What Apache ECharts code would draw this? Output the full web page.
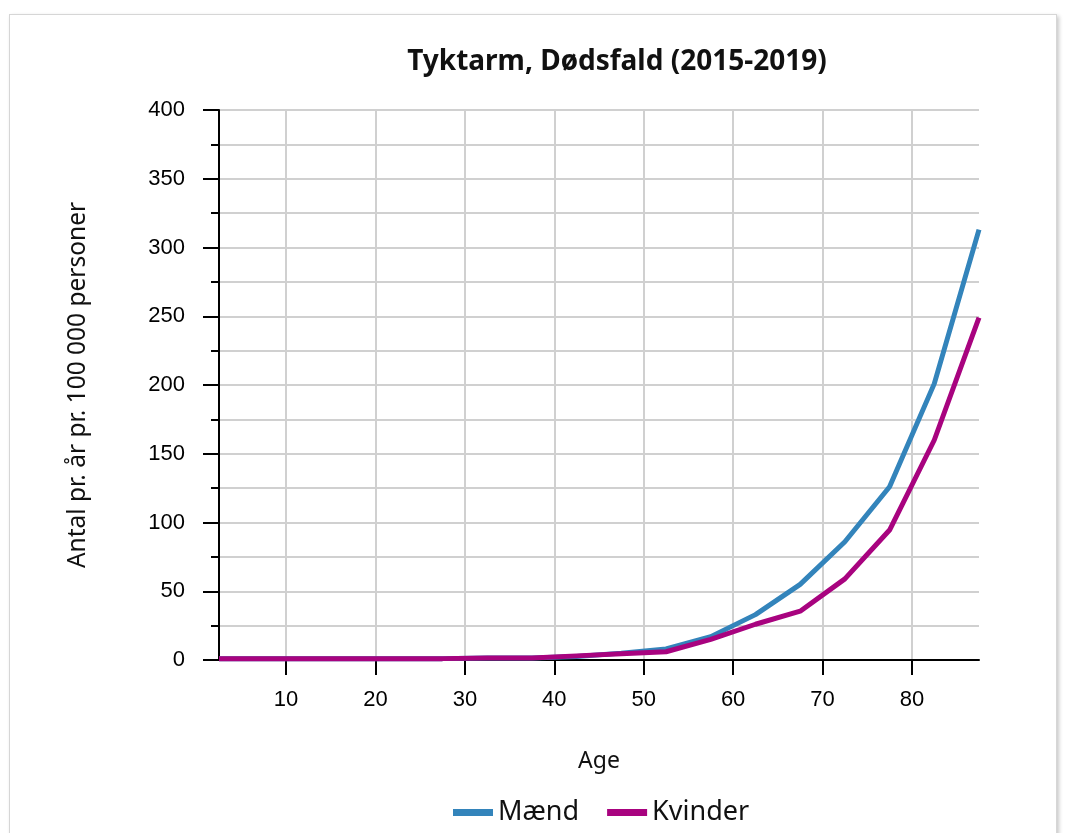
<!DOCTYPE html>
<html>
<head>
<meta charset="utf-8">
<script src="https://cdn.jsdelivr.net/npm/echarts@6/dist/echarts.min.js"></script>
<style>
  html, body { margin: 0; padding: 0; background: #fff; }
  #card { position: absolute; left: 9px; top: 14px; width: 1046px; height: 840px;
          border: 1px solid #d6d6d6; box-shadow: 2px 2px 4px #c8c8c8; background: #fff; }
  #main { position: absolute; left: 0; top: 0; width: 1074px; height: 833px; }
</style>
</head>
<body>
<div id="card"></div>
<div id="main"></div>
<script>
// age group midpoints
const ages = [2.5, 7.5, 12.5, 17.5, 22.5, 27.5, 32.5, 37.5, 42.5, 47.5, 52.5, 57.5, 62.5, 67.5, 72.5, 77.5, 82.5, 87.5]
const maend = [1, 1, 1, 1, 1, 1, 1.5, 1.5, 2.5, 5, 8, 17, 33, 55, 86, 126, 201, 313]
const kvinder = [1, 1, 1, 1, 1, 1, 1.5, 1.5, 3, 4.5, 6, 15, 26, 35.5, 59, 94.5, 160, 249]
const xTicks = [10, 20, 30, 40, 50, 60, 70, 80]

const toPairs = vals => ages.map((a, i) => [a, vals[i]])

let mychart = echarts.init(document.getElementById('main'))
const option = {
  animation: false,
  title: {
    text: 'Tyktarm, Dødsfald (2015-2019)',
    left: 612, top: 43, textAlign: 'center',
    textStyle: { fontFamily: 'Noto Sans', fontSize: 28, fontWeight: 'bold', color: '#111' }
  },
  legend: {
    bottom: 2, left: 448,
    itemWidth: 40, itemHeight: 7, itemGap: 28,
    icon: 'rect',
    textStyle: { fontFamily: 'Noto Sans', fontSize: 27, color: '#111' },
    data: ['Mænd', 'Kvinder']
  },
  grid: { left: 219, right: 95, top: 110, bottom: 173 },
  xAxis: {
    type: 'value', min: 2.5, max: 87.5,
    name: 'Age', nameLocation: 'middle', nameGap: 90,
    nameTextStyle: { fontFamily: 'Noto Sans', fontSize: 23, color: '#111' },
    axisLine: { show: true, lineStyle: { color: '#000', width: 2 } },
    axisTick: { show: true, customValues: xTicks, length: 15, lineStyle: { color: '#000', width: 2 } },
    axisLabel: { customValues: xTicks, margin: 29, fontFamily: 'Liberation Sans', fontSize: 22, color: '#000' },
    splitLine: { show: true, lineStyle: { color: '#d0d0d0', width: 2 } }
  },
  yAxis: {
    type: 'value', min: 0, max: 400, interval: 50,
    name: 'Antal pr. år pr. 100 000 personer', nameLocation: 'middle', nameGap: 128,
    nameTextStyle: { fontFamily: 'Noto Sans', fontSize: 24.5, color: '#111' },
    axisLine: { show: true, lineStyle: { color: '#000', width: 2 } },
    axisTick: { show: true, length: 16, lineStyle: { color: '#000', width: 2 } },
    minorTick: { show: true, splitNumber: 2, length: 8, lineStyle: { color: '#000', width: 2 } },
    axisLabel: { margin: 34, fontFamily: 'Liberation Sans', fontSize: 22, color: '#000' },
    splitLine: { show: true, lineStyle: { color: '#d0d0d0', width: 2 } },
    minorSplitLine: { show: true, lineStyle: { color: '#d0d0d0', width: 2 } }
  },
  series: [
    {
      name: 'Mænd', type: 'line', data: toPairs(maend),
      showSymbol: false, color: '#3384bb',
      lineStyle: { width: 5 }
    },
    {
      name: 'Kvinder', type: 'line', data: toPairs(kvinder),
      showSymbol: false, color: '#a8037f',
      lineStyle: { width: 5 }
    }
  ]
}
mychart.setOption(option)
</script>
</body>
</html>
